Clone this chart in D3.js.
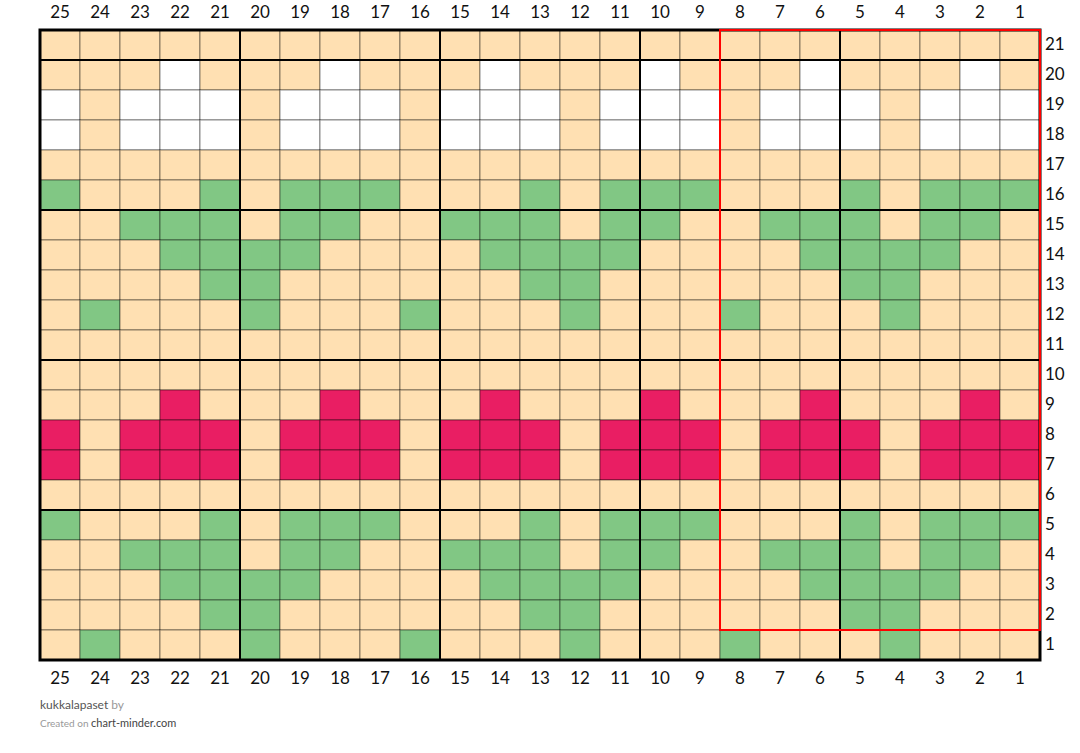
<!DOCTYPE html>
<html>
<head>
<meta charset="utf-8">
<script src="https://cdn.jsdelivr.net/npm/d3@7"></script>
<style>
  body { margin: 0; background: #fff; }
  svg { display: block; font-family: Lato, "Open Sans", sans-serif; }
  .tick text { font-size: 17px; fill: #111; }
</style>
</head>
<body>
<div id="chart"></div>
<script>
// Chart data
const columns = d3.range(25, 0, -1);   // 25 ... 1, left to right
const rowNumbers = d3.range(21, 0, -1); // 21 ... 1, top to bottom

// colour key per cell, left (col 25) to right (col 1), top row first
const gridRows = [
  'OOOOOOOOOOOOOOOOOOOOOOOOO', // 21
  'OOOWOOOWOOOWOOOWOOOWOOOWO', // 20
  'WOWWWOWWWOWWWOWWWOWWWOWWW', // 19
  'WOWWWOWWWOWWWOWWWOWWWOWWW', // 18
  'OOOOOOOOOOOOOOOOOOOOOOOOO', // 17
  'GOOOGOGGGOOOGOGGGOOOGOGGG', // 16
  'OOGGGOGGOOGGGOGGOOGGGOGGO', // 15
  'OOOGGGGOOOOGGGGOOOOGGGGOO', // 14
  'OOOOGGOOOOOOGGOOOOOOGGOOO', // 13
  'OGOOOGOOOGOOOGOOOGOOOGOOO', // 12
  'OOOOOOOOOOOOOOOOOOOOOOOOO', // 11
  'OOOOOOOOOOOOOOOOOOOOOOOOO', // 10
  'OOOROOOROOOROOOROOOROOORO', // 9
  'RORRRORRRORRRORRRORRRORRR', // 8
  'RORRRORRRORRRORRRORRRORRR', // 7
  'OOOOOOOOOOOOOOOOOOOOOOOOO', // 6
  'GOOOGOGGGOOOGOGGGOOOGOGGG', // 5
  'OOGGGOGGOOGGGOGGOOGGGOGGO', // 4
  'OOOGGGGOOOOGGGGOOOOGGGGOO', // 3
  'OOOOGGOOOOOOGGOOOOOOGGOOO', // 2
  'OGOOOGOOOGOOOGOOOGOOOGOOO'  // 1
];

const colorKeys = ['O', 'W', 'G', 'R'];
const colorValues = ['#ffe0b2', '#ffffff', '#81c784', '#e91e63'];

// pattern repeat box (columns and rows it spans)
const repeatCols = [8, 1];
const repeatRows = [21, 2];

const credit = 'kukkalapaset';

// Layout
const width = 1080;
const height = 753;
const margin = { top: 30, left: 40, right: 40, bottom: 93 };

const svg = d3.select('#chart')
  .append('svg')
  .attr('width', width)
  .attr('height', height);

const x = d3.scaleBand()
  .domain(columns)
  .range([margin.left, width - margin.right]);

const y = d3.scaleBand()
  .domain(rowNumbers)
  .range([margin.top, height - margin.bottom]);

const color = d3.scaleOrdinal().domain(colorKeys).range(colorValues);

// flatten cells
const cells = [];
gridRows.forEach((line, ri) => {
  line.split('').forEach((k, ci) => {
    cells.push({ row: rowNumbers[ri], col: columns[ci], key: k });
  });
});

svg.append('g')
  .selectAll('rect')
  .data(cells)
  .join('rect')
  .attr('x', d => x(d.col))
  .attr('y', d => y(d.row))
  .attr('width', x.bandwidth())
  .attr('height', y.bandwidth())
  .attr('fill', d => color(d.key))
  .attr('stroke', 'rgba(0,0,0,0.45)')
  .attr('stroke-width', 1);

// thick lines every 5 stitches / rows
const x0 = x.range()[0], x1 = x.range()[1];
const y0 = y.range()[0], y1 = y.range()[1];

const vLines = columns.filter(c => c % 5 === 0).map(c => x(c)).concat([x1]);
const hLines = [y0].concat(rowNumbers.filter(r => r % 5 === 0).map(r => y(r))).concat([y1]);

const lines = svg.append('g').attr('stroke', '#000').attr('stroke-width', 2);
lines.selectAll('.v')
  .data(vLines)
  .join('line')
  .attr('class', 'v')
  .attr('x1', d => d).attr('x2', d => d)
  .attr('y1', y0).attr('y2', y1);
lines.selectAll('.h')
  .data(hLines)
  .join('line')
  .attr('class', 'h')
  .attr('x1', x0).attr('x2', x1)
  .attr('y1', d => d).attr('y2', d => d);

// outer border
svg.append('rect')
  .attr('x', x0).attr('y', y0)
  .attr('width', x1 - x0).attr('height', y1 - y0)
  .attr('fill', 'none')
  .attr('stroke', '#000')
  .attr('stroke-width', 3);

// repeat box
svg.append('rect')
  .attr('x', x(repeatCols[0]))
  .attr('y', y(repeatRows[0]))
  .attr('width', x(repeatCols[1]) + x.bandwidth() - x(repeatCols[0]))
  .attr('height', y(repeatRows[1]) + y.bandwidth() - y(repeatRows[0]))
  .attr('fill', 'none')
  .attr('stroke', '#ff0000')
  .attr('stroke-width', 2);

// axes
function cleanAxis(g) {
  g.select('.domain').remove();
  g.selectAll('.tick line').remove();
}

svg.append('g')
  .attr('transform', `translate(0,${y0})`)
  .call(d3.axisTop(x).tickSize(0).tickPadding(12))
  .call(cleanAxis);

svg.append('g')
  .attr('transform', `translate(0,${y1})`)
  .call(d3.axisBottom(x).tickSize(0).tickPadding(12))
  .call(cleanAxis);

svg.append('g')
  .attr('transform', `translate(${x1},0)`)
  .call(d3.axisRight(y).tickSize(0).tickPadding(5))
  .call(cleanAxis);

svg.selectAll('.tick text').attr('font-family', 'Lato, sans-serif').attr('font-size', 17);

// footer
const foot = svg.append('g').attr('font-family', 'Lato, sans-serif');
const t1 = foot.append('text').attr('x', x0).attr('y', 709).attr('font-size', 12);
t1.append('tspan').attr('fill', '#555').text(credit);
t1.append('tspan').attr('fill', '#999').text(' by');

const t2 = foot.append('text').attr('x', x0).attr('y', 727);
t2.append('tspan').attr('fill', '#999').attr('font-size', 10).text('Created on ');
t2.append('tspan').attr('fill', '#444').attr('font-size', 11).text('chart-minder.com');
</script>
</body>
</html>
